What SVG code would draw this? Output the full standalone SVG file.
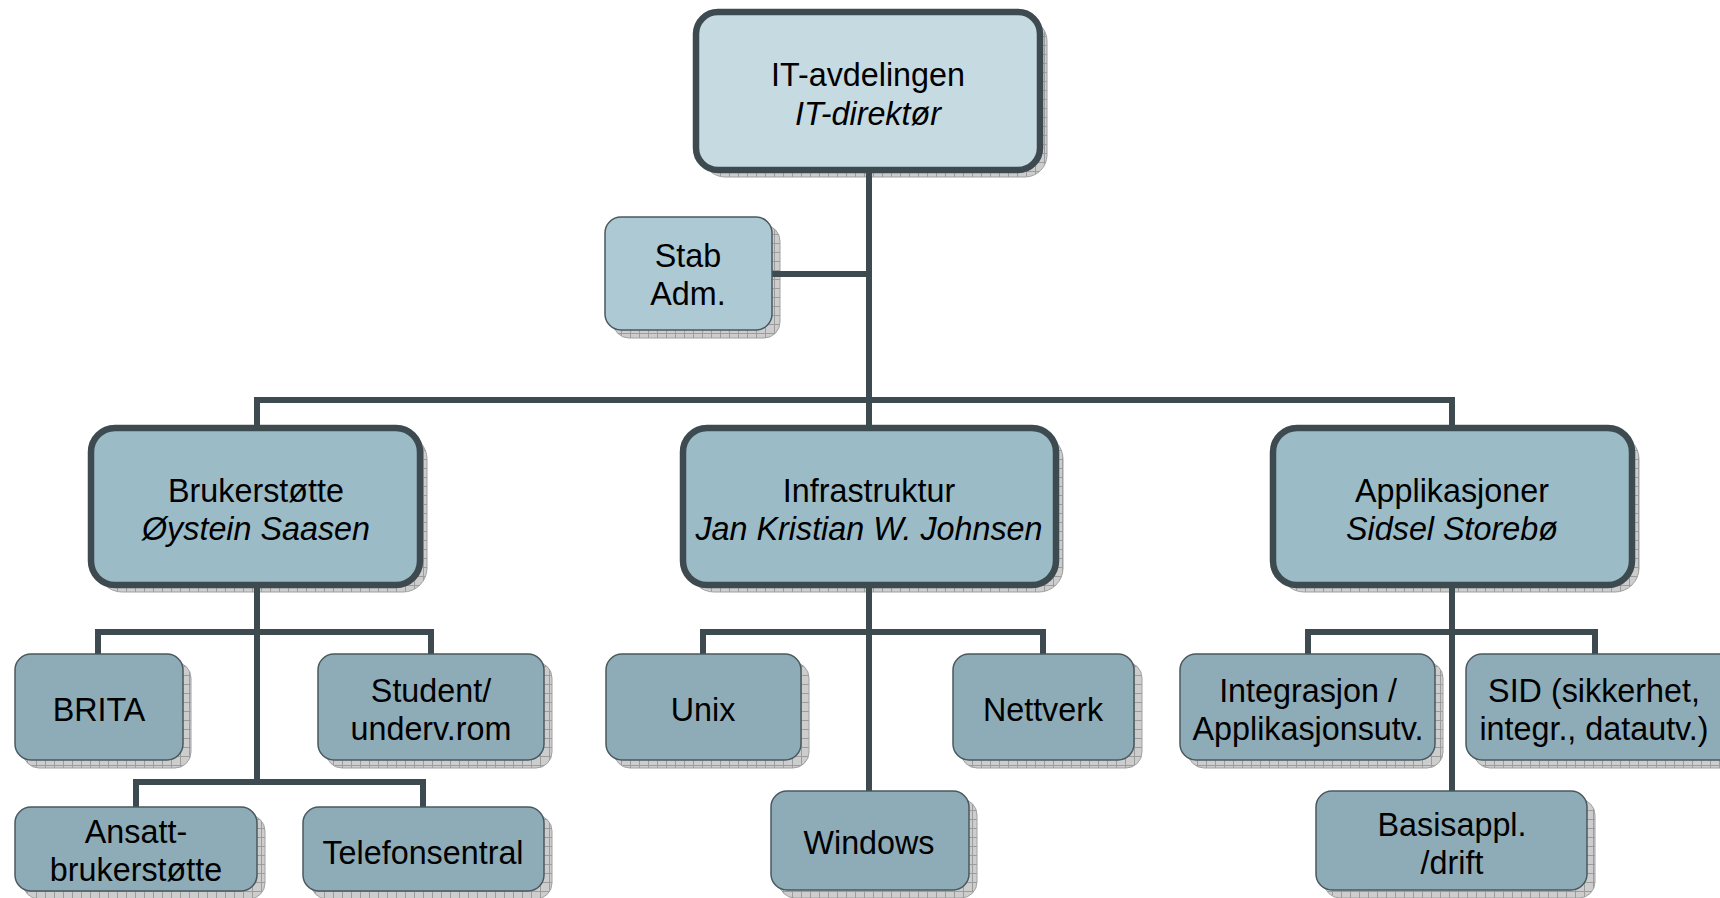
<svg xmlns="http://www.w3.org/2000/svg" width="1720" height="898" viewBox="0 0 1720 898">
<defs>
<pattern id="hatch" width="9" height="9" patternUnits="userSpaceOnUse">
<rect width="9" height="9" fill="#cdcdcd"/>
<path d="M0 0.5H9M0.5 0V9" stroke="#9c9c9c" stroke-width="1" fill="none"/>
</pattern>
<style>
.sh{fill:url(#hatch);stroke:#a0a0a0;stroke-width:1}
.b1{fill:#c6dae1;stroke:#3d4b50;stroke-width:6.5}
.b2{fill:#9bbbc7;stroke:#3d4b50;stroke-width:6.5}
.bs{fill:#adc9d4;stroke:#4a585d;stroke-width:1.5}
.b3{fill:#8eacb8;stroke:#4a585d;stroke-width:1.5}
.con{fill:none;stroke:#3d4b50;stroke-width:6;stroke-linejoin:miter;stroke-linecap:square}
text{font-family:"Liberation Sans",Arial,sans-serif;font-size:32.3px;fill:#000;text-anchor:middle}
.it{font-style:italic}
</style>
</defs>
<rect width="1720" height="898" fill="#fff"/>

<g id="shadows">
<rect class="sh" x="703" y="19" width="344" height="158" rx="22"/>
<rect class="sh" x="613" y="225" width="167" height="113" rx="16"/>
<rect class="sh" x="98" y="435" width="329" height="157" rx="24"/>
<rect class="sh" x="690" y="435" width="373" height="157" rx="24"/>
<rect class="sh" x="1280" y="435" width="359" height="157" rx="24"/>
<rect class="sh" x="23" y="662" width="168" height="106" rx="16"/>
<rect class="sh" x="326" y="662" width="226" height="106" rx="16"/>
<rect class="sh" x="23" y="815" width="242" height="84" rx="16"/>
<rect class="sh" x="311" y="815" width="241" height="84" rx="16"/>
<rect class="sh" x="614" y="662" width="195" height="106" rx="16"/>
<rect class="sh" x="961" y="662" width="181" height="106" rx="16"/>
<rect class="sh" x="779" y="799" width="198" height="99" rx="16"/>
<rect class="sh" x="1188" y="662" width="255" height="106" rx="16"/>
<rect class="sh" x="1474" y="662" width="270" height="106" rx="16"/>
<rect class="sh" x="1324" y="799" width="271" height="99" rx="16"/>
</g>

<g id="connectors">
<path class="con" d="M869 173V428"/>
<path class="con" d="M772 274H869"/>
<path class="con" d="M257 428V400H1452V428"/>
<path class="con" d="M257 588V782"/>
<path class="con" d="M98 654V632H431V654"/>
<path class="con" d="M136 807V782H423V807"/>
<path class="con" d="M869 588V791"/>
<path class="con" d="M703 654V632H1043V654"/>
<path class="con" d="M1452 588V791"/>
<path class="con" d="M1308 654V632H1595V654"/>
</g>

<g id="n-it">
<rect class="b1" x="696" y="12" width="344" height="158" rx="22"/>
<text x="868" y="86">IT-avdelingen</text>
<text class="it" x="868" y="125">IT-direktør</text>
</g>
<g id="n-stab">
<rect class="bs" x="605" y="217" width="167" height="113" rx="16"/>
<text x="688" y="267">Stab</text>
<text x="688" y="305">Adm.</text>
</g>
<g id="n-bruker">
<rect class="b2" x="91" y="428" width="329" height="157" rx="24"/>
<text x="256" y="502">Brukerstøtte</text>
<text class="it" x="256" y="539.5">Øystein Saasen</text>
</g>
<g id="n-infra">
<rect class="b2" x="683" y="428" width="373" height="157" rx="24"/>
<text x="869" y="502">Infrastruktur</text>
<text class="it" x="869" y="539.5">Jan Kristian W. Johnsen</text>
</g>
<g id="n-app">
<rect class="b2" x="1273" y="428" width="359" height="157" rx="24"/>
<text x="1452" y="502">Applikasjoner</text>
<text class="it" x="1452" y="539.5">Sidsel Storebø</text>
</g>
<g id="n-brita">
<rect class="b3" x="15" y="654" width="168" height="106" rx="16"/>
<text x="99" y="721">BRITA</text>
</g>
<g id="n-student">
<rect class="b3" x="318" y="654" width="226" height="106" rx="16"/>
<text x="431" y="702">Student/</text>
<text x="431" y="740">underv.rom</text>
</g>
<g id="n-ansatt">
<rect class="b3" x="15" y="807" width="242" height="84" rx="16"/>
<text x="136" y="843">Ansatt-</text>
<text x="136" y="881">brukerstøtte</text>
</g>
<g id="n-telefon">
<rect class="b3" x="303" y="807" width="241" height="84" rx="16"/>
<text x="423" y="864">Telefonsentral</text>
</g>
<g id="n-unix">
<rect class="b3" x="606" y="654" width="195" height="106" rx="16"/>
<text x="703" y="721">Unix</text>
</g>
<g id="n-nettverk">
<rect class="b3" x="953" y="654" width="181" height="106" rx="16"/>
<text x="1043" y="721">Nettverk</text>
</g>
<g id="n-windows">
<rect class="b3" x="771" y="791" width="198" height="99" rx="16"/>
<text x="869" y="854">Windows</text>
</g>
<g id="n-integrasjon">
<rect class="b3" x="1180" y="654" width="255" height="106" rx="16"/>
<text x="1308" y="702">Integrasjon /</text>
<text x="1308" y="740">Applikasjonsutv.</text>
</g>
<g id="n-sid">
<rect class="b3" x="1466" y="654" width="270" height="106" rx="16"/>
<text x="1594" y="702">SID (sikkerhet,</text>
<text x="1594" y="740">integr., datautv.)</text>
</g>
<g id="n-basis">
<rect class="b3" x="1316" y="791" width="271" height="99" rx="16"/>
<text x="1452" y="836">Basisappl.</text>
<text x="1452" y="874">/drift</text>
</g>
</svg>
